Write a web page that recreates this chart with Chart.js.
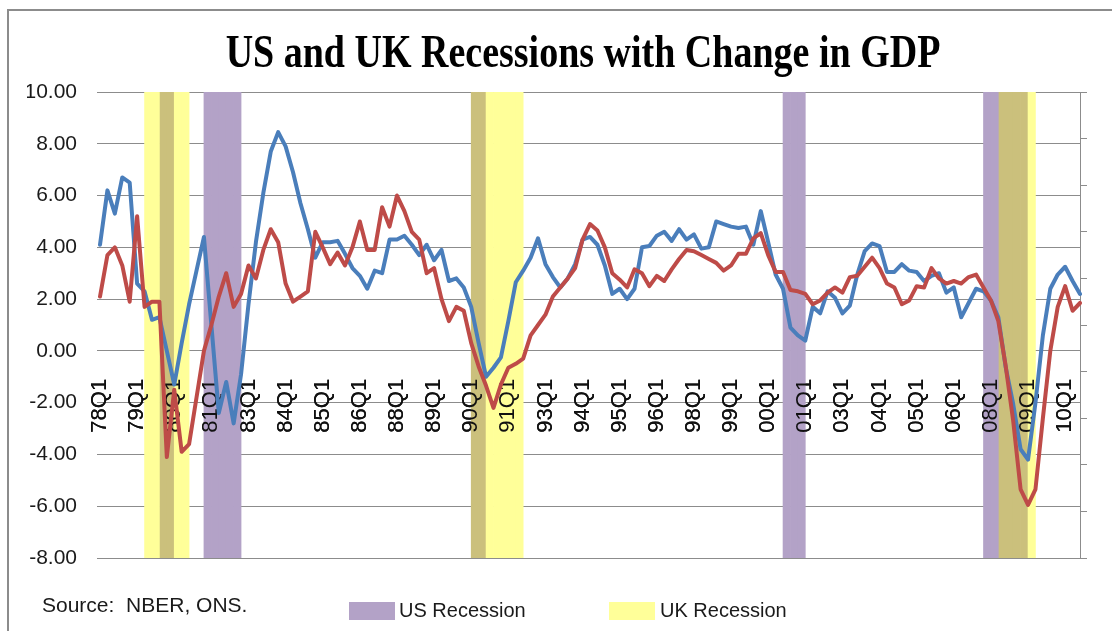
<!DOCTYPE html>
<html>
<head>
<meta charset="utf-8">
<title>US and UK Recessions with Change in GDP</title>
<script src="https://cdn.jsdelivr.net/npm/chart.js@4.4.1/dist/chart.umd.min.js"></script>
<style>
  html, body { margin: 0; padding: 0; background: #fff; }
  #wrap { position: relative; width: 1112px; height: 631px; }
</style>
</head>
<body>
<div id="wrap"><canvas id="gdpChart"></canvas></div>
<script>
// year-on-year change in GDP (%), one value per quarter from 1978Q1
const usGdp = [
  4.1, 6.2, 5.3, 6.7, 6.5, 2.6, 2.3, 1.2, 1.3, 0.0,
  -1.3, 0.3, 1.8, 3.1, 4.4, 1.0, -2.4, -1.2, -2.8, -0.9,
  1.8, 4.2, 6.1, 7.7, 8.45, 7.9, 6.9, 5.7, 4.7, 3.6,
  4.2, 4.2, 4.25, 3.75, 3.2, 2.9, 2.4, 3.1, 3.0, 4.3,
  4.3, 4.45, 4.1, 3.7, 4.1, 3.5, 3.9, 2.7, 2.8, 2.45,
  1.7, 0.3, -1.0, -0.65, -0.25, 1.15, 2.65, 3.1, 3.6, 4.35,
  3.35, 2.85, 2.45, 2.8, 3.35, 4.3, 4.4, 4.1, 3.3, 2.2,
  2.4, 2.0, 2.4, 4.0, 4.05, 4.45, 4.6, 4.25, 4.7, 4.3,
  4.5, 3.95, 4.0, 5.0, 4.9, 4.8, 4.75, 4.8, 4.1, 5.4,
  4.2, 2.95, 2.4, 0.9, 0.6, 0.4, 1.7, 1.45, 2.3, 2.05,
  1.45, 1.75, 2.95, 3.85, 4.15, 4.05, 3.05, 3.05, 3.35, 3.1,
  3.05, 2.7, 2.9, 3.0, 2.25, 2.45, 1.3, 1.85, 2.4, 2.3,
  1.95, 1.3, -0.65, -2.05, -3.8, -4.2, -2.0, 0.6, 2.4, 2.95,
  3.25, 2.7, 2.2
];
const ukGdp = [
  2.1, 3.7, 4.0, 3.3, 1.9, 5.2, 1.7, 1.9, 1.9, -4.1,
  -1.5, -3.9, -3.6, -1.8, 0.0, 1.0, 2.1, 3.0, 1.7, 2.2,
  3.3, 2.8, 3.9, 4.7, 4.2, 2.6, 1.9, 2.1, 2.3, 4.6,
  4.0, 3.35, 3.8, 3.3, 4.0, 5.0, 3.9, 3.9, 5.55, 4.8,
  6.0, 5.4, 4.6, 4.3, 3.0, 3.2, 2.0, 1.15, 1.7, 1.55,
  0.3, -0.6, -1.35, -2.2, -1.3, -0.65, -0.5, -0.3, 0.6, 1.0,
  1.4, 2.1, 2.45, 2.8, 3.2, 4.3, 4.9, 4.65, 4.0, 3.0,
  2.75, 2.45, 3.15, 3.0, 2.5, 2.9, 2.7, 3.15, 3.55, 3.9,
  3.85, 3.7, 3.55, 3.4, 3.1, 3.3, 3.75, 3.75, 4.35, 4.55,
  3.7, 3.05, 3.05, 2.35, 2.3, 2.2, 1.8, 1.95, 2.25, 2.45,
  2.25, 2.85, 2.9, 3.25, 3.6, 3.2, 2.6, 2.45, 1.8, 1.95,
  2.5, 2.45, 3.2, 2.8, 2.6, 2.7, 2.6, 2.85, 2.95, 2.45,
  1.95, 1.15, -0.6, -2.7, -5.35, -5.95, -5.35, -2.6, 0.0, 1.7,
  2.5, 1.55, 1.85
];

// labels shown on every fifth quarter
const tickLabels = [
  '78Q1', '79Q1', '80Q1', '81Q1', '83Q1', '84Q1', '85Q1', '86Q1', '88Q1',
  '89Q1', '90Q1', '91Q1', '93Q1', '94Q1', '95Q1', '96Q1', '98Q1', '99Q1',
  '00Q1', '01Q1', '03Q1', '04Q1', '05Q1', '06Q1', '08Q1', '09Q1', '10Q1'
];

// recessions: first and last shaded quarter
const usRecessions = [
  ['1980Q1', '1980Q2'], ['1981Q3', '1982Q3'], ['1990Q3', '1990Q4'],
  ['2001Q1', '2001Q3'], ['2007Q4', '2009Q1']
];
const ukRecessions = [
  ['1979Q3', '1980Q4'], ['1990Q3', '1992Q1'], ['2008Q2', '2009Q2']
];

const yMin = -8, yMax = 10;

const quarters = [];
for (let i = 0; i < usGdp.length; i++) {
  quarters.push((1978 + Math.floor(i / 4)) + 'Q' + (i % 4 + 1));
}
// shading columns sit between the quarter points
const periods = quarters.slice(0, -1);

function inRecession(q, list) {
  const idx = quarters.indexOf(q);
  return list.some(r => idx >= quarters.indexOf(r[0]) && idx <= quarters.indexOf(r[1]));
}
const usOnly = periods.map(q => inRecession(q, usRecessions) && !inRecession(q, ukRecessions) ? [yMin, yMax] : null);
const ukOnly = periods.map(q => inRecession(q, ukRecessions) && !inRecession(q, usRecessions) ? [yMin, yMax] : null);
const both = periods.map(q => inRecession(q, usRecessions) && inRecession(q, ukRecessions) ? [yMin, yMax] : null);

const US_SHADE = '#b3a2c7';
const UK_SHADE = '#ffff99';
const BOTH_SHADE = '#cbc07c';
const GRID = '#8c8c8c';

// frame, title, source note and key
const decorations = {
  id: 'decorations',
  beforeDraw(chart) {
    const ctx = chart.ctx;
    ctx.save();
    ctx.fillStyle = '#fff';
    ctx.fillRect(0, 0, chart.width, chart.height);
    ctx.strokeStyle = GRID;
    ctx.lineWidth = 2;
    ctx.beginPath();
    ctx.moveTo(8, chart.height);
    ctx.lineTo(8, 10);
    ctx.lineTo(chart.width, 10);
    ctx.stroke();
    ctx.restore();
  },
  // quarter labels go over the shading but under the GDP lines
  beforeDatasetDraw(chart, args) {
    if (args.index === 0) chart.scales.x.drawLabels(chart.chartArea);
  },
  afterDraw(chart) {
    const ctx = chart.ctx;
    ctx.save();
    ctx.fillStyle = '#000';
    ctx.textAlign = 'center';
    ctx.textBaseline = 'alphabetic';
    ctx.font = 'bold 38px "Liberation Serif"';
    ctx.translate(583, 67);
    ctx.scale(1, 1.22);
    ctx.fillText('US and UK Recessions with Change in GDP', 0, 0);
    ctx.restore();

    ctx.save();
    ctx.textAlign = 'left';
    ctx.textBaseline = 'middle';
    ctx.fillStyle = '#1a1a1a';
    ctx.font = '21px "Liberation Sans"';
    ctx.fillText('Source:  NBER, ONS.', 42, 606);
    ctx.font = '20px "Liberation Sans"';
    ctx.fillStyle = US_SHADE;
    ctx.fillRect(349, 602, 46, 18);
    ctx.fillStyle = UK_SHADE;
    ctx.fillRect(609, 602, 46, 18);
    ctx.fillStyle = '#1a1a1a';
    ctx.fillText('US Recession', 399, 611);
    ctx.fillText('UK Recession', 660, 611);
    ctx.restore();
  }
};

const axisFont = { family: 'Liberation Sans', size: 21 };

new Chart(document.getElementById('gdpChart'), {
  data: {
    labels: quarters,
    datasets: [
      {
        type: 'line', label: 'US', data: usGdp,
        borderColor: '#4a7ebb', borderWidth: 4, pointRadius: 0, tension: 0,
        borderJoinStyle: 'round', borderCapStyle: 'round',
        xAxisID: 'x', yAxisID: 'y', order: 1
      },
      {
        type: 'line', label: 'UK', data: ukGdp,
        borderColor: '#be4b48', borderWidth: 4, pointRadius: 0, tension: 0,
        borderJoinStyle: 'round', borderCapStyle: 'round',
        xAxisID: 'x', yAxisID: 'y', order: 0
      },
      {
        type: 'bar', label: 'US Recession', data: usOnly, backgroundColor: US_SHADE,
        barPercentage: 1, categoryPercentage: 1, borderWidth: 0, grouped: false,
        xAxisID: 'xPeriods', yAxisID: 'y', order: 2
      },
      {
        type: 'bar', label: 'UK Recession', data: ukOnly, backgroundColor: UK_SHADE,
        barPercentage: 1, categoryPercentage: 1, borderWidth: 0, grouped: false,
        xAxisID: 'xPeriods', yAxisID: 'y', order: 2
      },
      {
        type: 'bar', label: 'US and UK Recession', data: both, backgroundColor: BOTH_SHADE,
        barPercentage: 1, categoryPercentage: 1, borderWidth: 0, grouped: false,
        xAxisID: 'xPeriods', yAxisID: 'y', order: 2
      }
    ]
  },
  options: {
    responsive: true,
    maintainAspectRatio: false,
    animation: false,
    layout: { padding: { left: 27, right: 22, top: 92, bottom: 73 } },
    plugins: {
      legend: { display: false },
      title: { display: false },
      tooltip: { enabled: false }
    },
    scales: {
      x: {
        type: 'category',
        position: { y: 0 },
        offset: false,
        grid: { display: false, drawTicks: false },
        border: { display: false },
        ticks: {
          autoSkip: false, minRotation: 90, maxRotation: 90, padding: 28,
          color: '#111', font: { family: 'Liberation Sans', size: 22 },
          callback: (v, i) => (i % 5 === 0 ? tickLabels[i / 5] : null)
        },
        afterFit(scale) {
          scale.paddingLeft = 0;
          scale.paddingRight = 0;
        }
      },
      xPeriods: {
        type: 'category',
        labels: periods,
        offset: true,
        display: false
      },
      y: {
        min: yMin, max: yMax,
        grid: { color: GRID, tickLength: 3 },
        border: { display: false },
        ticks: {
          stepSize: 2, padding: 20, color: '#1a1a1a', font: axisFont,
          callback: v => v.toFixed(2)
        },
        afterFit(scale) { scale.width = 73; }
      },
      y2: {
        position: 'right',
        min: 0, max: 1,
        grid: { drawOnChartArea: false, tickLength: 7, color: GRID },
        border: { display: true, color: GRID },
        ticks: { display: false, stepSize: 0.1 },
        afterFit(scale) { scale.width = 10; }
      }
    }
  },
  plugins: [decorations]
});
</script>
</body>
</html>
